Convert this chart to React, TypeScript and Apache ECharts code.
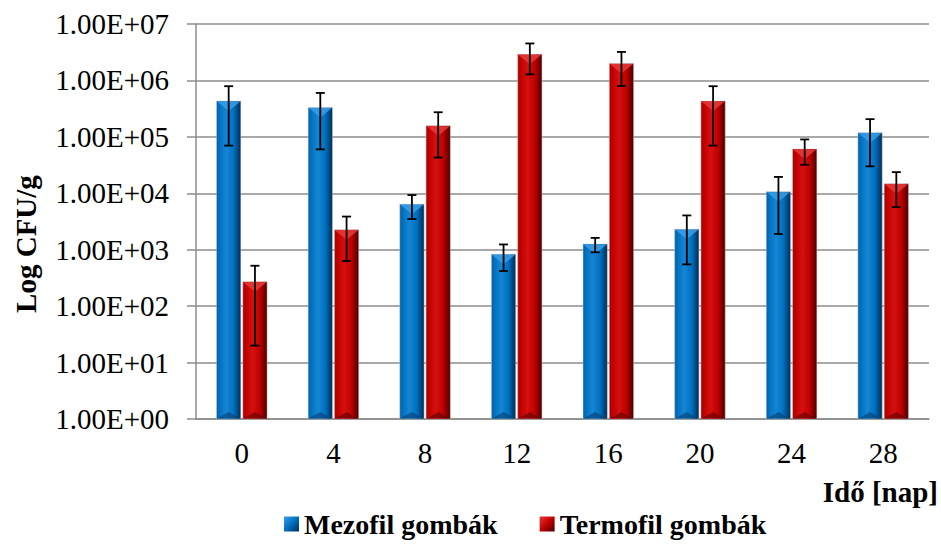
import React, { useEffect, useRef } from "react";
import * as echarts from "echarts";

const categories = ["0", "4", "8", "12", "16", "20", "24", "28"];
const mezofil = [4.3e5, 3.3e5, 6.4e3, 830, 1.26e3, 2.3e3, 1.07e4, 1.18e5];
const mezofilErr = [3.6e5, 2.7e5, 2.9e3, 410, 360, 1.75e3, 8.8e3, 8.8e4];
const termofil = [270, 2.25e3, 1.58e5, 2.9e6, 2.0e6, 4.3e5, 6.1e4, 1.47e4];
const termofilErr = [250, 1.62e3, 1.15e5, 1.62e6, 1.2e6, 3.6e5, 2.9e4, 9.0e3];
const yTickLabels = ["1.00E+00", "1.00E+01", "1.00E+02", "1.00E+03", "1.00E+04", "1.00E+05", "1.00E+06", "1.00E+07"];
const seriesNames = ["Mezofil gombák", "Termofil gombák"];
const yAxisTitle = "Log CFU/g";
const xAxisTitle = "Idő [nap]";

const FONT = "'Liberation Serif', 'Times New Roman', serif";

const palettes = [
  { edgeL: "#0a5ea6", main: "#0070c0", hi: "#1585d4", dark: "#002d55", top: "#3a9de6", bottom: "#063d6e", legend: "#0070c0" },
  { edgeL: "#a80000", main: "#c00000", hi: "#d41010", dark: "#4a0000", top: "#e63a3a", bottom: "#5e0000", legend: "#c00000" },
];

function makeRender(sIdx: number) {
  const p = palettes[sIdx];
  return (params: any, api: any) => {
    const ci = api.value(0);
    const v = api.value(1);
    const err = api.value(2);
    const band = params.coordSys.width / categories.length;
    const bw = band * 0.265;
    const gap = 2;
    const c = api.coord([ci, v]);
    const base = api.coord([ci, 1]);
    const x0 = sIdx === 0 ? c[0] - gap / 2 - bw : c[0] + gap / 2;
    const top = c[1];
    const bottom = base[1];
    const hi = api.coord([ci, v + err])[1];
    const lo = api.coord([ci, Math.max(v - err, 1)])[1];
    const ex = x0 + bw / 2;
    const bev = Math.min(10, (bottom - top) / 2);
    const cap = 4.5;
    const grad = new echarts.graphic.LinearGradient(0, 0, 1, 0, [
      { offset: 0, color: p.edgeL },
      { offset: 0.12, color: p.main },
      { offset: 0.4, color: p.hi },
      { offset: 0.7, color: p.main },
      { offset: 1, color: p.dark },
    ]);
    const errStyle = { stroke: "#000", lineWidth: 1.8 };
    return {
      type: "group",
      children: [
        { type: "rect", shape: { x: x0, y: top, width: bw, height: bottom - top }, style: { fill: grad, stroke: "rgba(200,200,200,0.6)", lineWidth: 0.8 } },
        { type: "polygon", shape: { points: [[x0 + 0.5, top + 0.5], [x0 + bw - 0.5, top + 0.5], [x0 + bw / 2, top + bev]] }, style: { fill: p.top, opacity: 0.85 } },
        { type: "polygon", shape: { points: [[x0 + 0.5, bottom - 0.5], [x0 + bw - 0.5, bottom - 0.5], [x0 + bw / 2, bottom - bev * 0.7]] }, style: { fill: p.bottom, opacity: 0.6 } },
        { type: "line", shape: { x1: ex, y1: hi, x2: ex, y2: lo }, style: errStyle },
        { type: "line", shape: { x1: ex - cap, y1: hi, x2: ex + cap, y2: hi }, style: errStyle },
        { type: "line", shape: { x1: ex - cap, y1: lo, x2: ex + cap, y2: lo }, style: errStyle },
      ],
    };
  };
}

export default function App() {
  const ref = useRef<HTMLDivElement>(null);
  useEffect(() => {
    if (!ref.current) return;
    const chart = echarts.init(ref.current, undefined, { renderer: "svg" });
    const values = [mezofil, termofil];
    const errs = [mezofilErr, termofilErr];
    chart.setOption({
      animation: false,
      backgroundColor: "#ffffff",
      textStyle: { fontFamily: FONT },
      grid: { left: 196, right: 12, top: 24, bottom: 125, containLabel: false },
      legend: {
        show: true,
        left: 284,
        top: 508,
        padding: 0,
        itemWidth: 15,
        itemHeight: 15,
        itemGap: 42,
        itemTextGap: 5,
        icon: "rect",
        data: seriesNames.map((n, i) => ({
          name: n,
          itemStyle: {
            color: new echarts.graphic.LinearGradient(0, 0, 1, 1, [
              { offset: 0, color: palettes[i].top },
              { offset: 0.5, color: palettes[i].main },
              { offset: 1, color: palettes[i].dark },
            ]),
          },
        })),
        textStyle: { fontFamily: FONT, fontWeight: "bold", fontSize: 28, lineHeight: 32, color: "#000" },
      },
      xAxis: {
        type: "category",
        data: categories,
        axisLine: { lineStyle: { color: "#8c8c8c", width: 1.5 } },
        axisTick: { show: false },
        axisLabel: { fontFamily: FONT, fontSize: 29, color: "#000", margin: 19 },
        splitLine: { show: false },
      },
      yAxis: {
        type: "log",
        logBase: 10,
        min: 1,
        max: 1e7,
        axisLine: { show: true, lineStyle: { color: "#8c8c8c", width: 1.5 } },
        axisTick: { show: true, inside: false, length: 9, lineStyle: { color: "#8c8c8c", width: 1.5 } },
        splitLine: { show: true, lineStyle: { color: "#8c8c8c", width: 1.5 } },
        axisLabel: {
          fontFamily: FONT,
          fontSize: 29,
          color: "#000",
          margin: 27,
          formatter: (val: number) => yTickLabels[Math.round(Math.log10(val))],
        },
      },
      series: [0, 1].map((s) => ({
        type: "custom",
        name: seriesNames[s],
        itemStyle: { color: palettes[s].legend },
        encode: { x: 0, y: 1 },
        renderItem: makeRender(s),
        data: values[s].map((v, i) => [i, v, errs[s][i]]),
        z: 3,
      })),
      graphic: [
        {
          type: "text",
          x: 26,
          y: 244,
          rotation: Math.PI / 2,
          style: { text: yAxisTitle, font: `bold 29px ${FONT}`, fill: "#000", align: "center", verticalAlign: "middle" },
        },
        {
          type: "text",
          x: 938,
          y: 492,
          style: { text: xAxisTitle, font: `bold 29px ${FONT}`, fill: "#000", align: "right", verticalAlign: "middle" },
        },
      ],
    });
    return () => chart.dispose();
  }, []);
  return <div ref={ref} style={{ position: "fixed", left: 0, top: 0, width: 941, height: 544 }} />;
}
